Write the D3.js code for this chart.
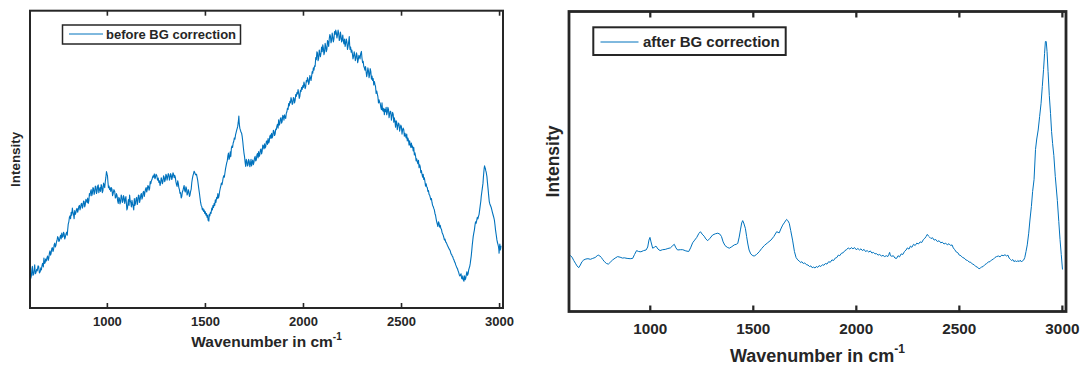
<!DOCTYPE html>
<html>
<head>
<meta charset="utf-8">
<script src="https://cdn.jsdelivr.net/npm/d3@7"></script>
<style>
  html, body { margin: 0; padding: 0; background: #ffffff; }
  svg { display: block; }
  text { font-family: "Liberation Sans", Arial, "DejaVu Sans", sans-serif; fill: #262626; }
</style>
</head>
<body>
<svg id="chart" width="1084" height="369"></svg>
<script>
// ---------- data ----------
const xTicks = [1000, 1500, 2000, 2500, 3000];
const xDomain = [608, 3020];

// Raman spectrum before background correction: [wavenumber (cm^-1), relative intensity]
const beforeBG = [
[608,0.105],[612,0.100],[615,0.108],[618,0.132],[620,0.140],[623,0.110],[626,0.112],[629,0.128],[632,0.145],[635,0.115],[638,0.118],[642,0.130],[645,0.125],[649,0.142],[652,0.140],[656,0.118],[660,0.122],[663,0.135],[666,0.128],
[669,0.142],[672,0.150],[676,0.138],[679,0.168],[682,0.150],[685,0.152],[688,0.165],[691,0.158],[695,0.170],[698,0.175],[701,0.160],[704,0.168],[707,0.185],[710,0.192],[713,0.178],[716,0.185],[719,0.200],[722,0.203],[725,0.190],[728,0.196],
[731,0.212],[734,0.218],[737,0.205],[740,0.210],[743,0.222],[746,0.228],[749,0.240],[752,0.236],[755,0.224],[758,0.226],[761,0.238],[764,0.245],[767,0.232],[770,0.252],[773,0.238],[776,0.240],[779,0.255],[782,0.250],[785,0.232],[788,0.238],
[792,0.250],[795,0.255],[798,0.245],[800,0.262],[803,0.282],[806,0.290],[809,0.305],[812,0.310],[815,0.300],[818,0.322],[821,0.312],[824,0.336],[827,0.322],[830,0.315],[833,0.300],[836,0.328],[839,0.315],[842,0.320],[845,0.332],[848,0.335],
[851,0.322],[854,0.330],[857,0.342],[860,0.345],[863,0.330],[866,0.338],[869,0.350],[872,0.352],[875,0.336],[878,0.342],[881,0.360],[884,0.358],[887,0.340],[890,0.348],[893,0.366],[896,0.362],[899,0.355],[902,0.370],[905,0.352],[908,0.360],
[911,0.385],[914,0.378],[917,0.392],[920,0.398],[923,0.378],[926,0.385],[929,0.405],[932,0.402],[935,0.382],[938,0.390],[941,0.410],[944,0.408],[947,0.385],[950,0.392],[953,0.410],[956,0.414],[959,0.388],[962,0.398],[965,0.405],[968,0.392],
[971,0.415],[974,0.410],[977,0.388],[980,0.395],[983,0.420],[986,0.414],[989,0.405],[992,0.425],[995,0.440],[998,0.459],[1001,0.450],[1003,0.445],[1006,0.420],[1008,0.405],[1011,0.410],[1014,0.398],[1017,0.404],[1020,0.392],[1023,0.405],[1026,0.400],
[1029,0.378],[1032,0.385],[1036,0.398],[1040,0.392],[1043,0.370],[1046,0.372],[1049,0.385],[1052,0.378],[1055,0.360],[1058,0.352],[1061,0.372],[1064,0.368],[1067,0.350],[1070,0.358],[1073,0.380],[1076,0.375],[1079,0.355],[1082,0.360],[1085,0.378],[1088,0.370],
[1091,0.352],[1094,0.366],[1097,0.375],[1100,0.348],[1102,0.330],[1105,0.336],[1108,0.355],[1110,0.365],[1113,0.345],[1116,0.380],[1119,0.360],[1122,0.355],[1125,0.340],[1128,0.362],[1131,0.350],[1134,0.341],[1137,0.330],[1140,0.368],[1143,0.345],[1146,0.352],
[1149,0.368],[1152,0.372],[1155,0.348],[1158,0.358],[1161,0.380],[1164,0.378],[1167,0.355],[1170,0.365],[1173,0.380],[1176,0.385],[1179,0.366],[1182,0.372],[1185,0.390],[1188,0.392],[1191,0.375],[1194,0.388],[1197,0.400],[1200,0.405],[1203,0.390],[1206,0.398],
[1209,0.412],[1212,0.410],[1215,0.396],[1218,0.402],[1221,0.425],[1224,0.418],[1227,0.428],[1230,0.432],[1233,0.440],[1236,0.445],[1239,0.440],[1242,0.451],[1245,0.435],[1248,0.440],[1251,0.450],[1255,0.445],[1258,0.430],[1262,0.437],[1265,0.422],[1268,0.428],
[1271,0.412],[1274,0.420],[1277,0.438],[1280,0.432],[1283,0.418],[1286,0.425],[1289,0.445],[1292,0.440],[1295,0.425],[1298,0.432],[1301,0.450],[1304,0.445],[1307,0.430],[1310,0.440],[1313,0.452],[1316,0.448],[1319,0.430],[1322,0.438],[1325,0.452],[1328,0.447],
[1331,0.432],[1334,0.440],[1337,0.455],[1340,0.450],[1343,0.438],[1346,0.446],[1349,0.440],[1352,0.425],[1355,0.415],[1358,0.409],[1361,0.428],[1364,0.420],[1367,0.405],[1370,0.398],[1373,0.385],[1376,0.388],[1379,0.370],[1382,0.375],[1385,0.390],[1388,0.395],
[1391,0.405],[1394,0.412],[1397,0.395],[1400,0.390],[1403,0.408],[1406,0.402],[1409,0.380],[1412,0.385],[1415,0.398],[1418,0.392],[1421,0.375],[1424,0.380],[1427,0.392],[1430,0.400],[1433,0.422],[1436,0.435],[1439,0.445],[1442,0.452],[1445,0.460],[1448,0.456],
[1451,0.450],[1454,0.448],[1457,0.450],[1460,0.440],[1463,0.430],[1466,0.415],[1469,0.400],[1472,0.386],[1475,0.370],[1478,0.355],[1481,0.345],[1484,0.341],[1487,0.330],[1490,0.335],[1493,0.325],[1496,0.330],[1499,0.318],[1502,0.324],[1505,0.312],[1508,0.318],
[1511,0.305],[1514,0.312],[1516,0.295],[1518,0.300],[1520,0.292],[1522,0.315],[1525,0.310],[1528,0.322],[1531,0.318],[1535,0.336],[1538,0.330],[1541,0.345],[1544,0.338],[1547,0.352],[1550,0.345],[1553,0.364],[1556,0.355],[1560,0.372],[1563,0.368],[1566,0.385],
[1569,0.370],[1572,0.378],[1575,0.392],[1578,0.402],[1581,0.410],[1584,0.420],[1587,0.415],[1590,0.425],[1593,0.438],[1596,0.445],[1599,0.440],[1602,0.454],[1605,0.468],[1608,0.478],[1611,0.488],[1614,0.495],[1617,0.512],[1620,0.521],[1623,0.500],[1626,0.505],
[1629,0.525],[1632,0.510],[1635,0.538],[1638,0.545],[1641,0.540],[1644,0.555],[1647,0.560],[1650,0.572],[1653,0.568],[1656,0.582],[1659,0.590],[1662,0.598],[1665,0.605],[1667,0.610],[1670,0.625],[1673,0.646],[1675,0.620],[1678,0.605],[1681,0.598],[1684,0.592],
[1687,0.588],[1690,0.577],[1693,0.560],[1696,0.540],[1699,0.522],[1702,0.509],[1705,0.490],[1708,0.476],[1711,0.500],[1714,0.495],[1717,0.478],[1720,0.482],[1723,0.500],[1726,0.493],[1729,0.475],[1732,0.485],[1735,0.500],[1738,0.478],[1741,0.490],[1744,0.498],
[1747,0.482],[1750,0.490],[1753,0.505],[1756,0.510],[1759,0.495],[1762,0.498],[1765,0.515],[1768,0.520],[1771,0.505],[1774,0.526],[1777,0.510],[1780,0.515],[1783,0.532],[1786,0.535],[1789,0.518],[1792,0.528],[1795,0.548],[1798,0.545],[1801,0.535],[1804,0.552],
[1807,0.538],[1810,0.542],[1813,0.560],[1816,0.562],[1819,0.550],[1822,0.570],[1825,0.555],[1828,0.560],[1831,0.578],[1834,0.582],[1837,0.570],[1840,0.588],[1843,0.572],[1846,0.578],[1849,0.598],[1852,0.595],[1855,0.580],[1858,0.585],[1861,0.602],[1864,0.600],
[1867,0.612],[1870,0.618],[1873,0.605],[1876,0.633],[1879,0.615],[1882,0.620],[1885,0.638],[1888,0.640],[1891,0.622],[1894,0.628],[1897,0.648],[1900,0.645],[1903,0.632],[1906,0.650],[1909,0.640],[1912,0.638],[1915,0.655],[1918,0.660],[1921,0.672],[1924,0.668],
[1927,0.688],[1930,0.680],[1933,0.695],[1936,0.690],[1939,0.708],[1942,0.700],[1945,0.685],[1948,0.688],[1951,0.708],[1954,0.705],[1957,0.690],[1960,0.698],[1963,0.718],[1966,0.712],[1969,0.725],[1972,0.720],[1975,0.735],[1978,0.723],[1981,0.705],[1984,0.712],
[1987,0.732],[1990,0.728],[1993,0.742],[1996,0.735],[1999,0.748],[2002,0.742],[2005,0.760],[2008,0.751],[2011,0.738],[2014,0.745],[2017,0.765],[2020,0.760],[2023,0.775],[2026,0.768],[2029,0.752],[2032,0.760],[2035,0.782],[2038,0.775],[2041,0.765],[2044,0.779],
[2047,0.795],[2050,0.790],[2053,0.808],[2056,0.800],[2059,0.815],[2062,0.813],[2065,0.842],[2068,0.835],[2071,0.862],[2074,0.858],[2077,0.832],[2080,0.840],[2083,0.868],[2086,0.855],[2089,0.845],[2092,0.858],[2095,0.878],[2098,0.862],[2101,0.885],[2104,0.874],
[2107,0.852],[2110,0.860],[2113,0.890],[2116,0.880],[2119,0.862],[2122,0.870],[2125,0.900],[2128,0.895],[2131,0.880],[2134,0.905],[2137,0.920],[2140,0.914],[2143,0.892],[2146,0.900],[2149,0.925],[2152,0.912],[2155,0.895],[2158,0.905],[2161,0.930],[2164,0.920],
[2167,0.935],[2170,0.927],[2173,0.908],[2176,0.918],[2179,0.935],[2182,0.925],[2185,0.900],[2188,0.905],[2191,0.928],[2194,0.915],[2197,0.895],[2200,0.902],[2203,0.918],[2206,0.897],[2209,0.888],[2212,0.905],[2215,0.880],[2218,0.890],[2221,0.905],[2224,0.895],
[2227,0.870],[2230,0.880],[2233,0.895],[2236,0.913],[2238,0.885],[2240,0.870],[2243,0.878],[2246,0.860],[2249,0.868],[2252,0.855],[2255,0.838],[2258,0.846],[2261,0.862],[2264,0.852],[2267,0.832],[2270,0.840],[2273,0.858],[2276,0.848],[2279,0.825],[2282,0.835],
[2285,0.850],[2288,0.845],[2291,0.838],[2294,0.855],[2298,0.863],[2301,0.840],[2304,0.825],[2307,0.830],[2310,0.813],[2313,0.808],[2316,0.800],[2319,0.812],[2322,0.795],[2325,0.778],[2328,0.790],[2331,0.808],[2334,0.798],[2337,0.775],[2340,0.785],[2343,0.805],
[2346,0.795],[2349,0.770],[2352,0.780],[2355,0.765],[2358,0.772],[2361,0.750],[2364,0.762],[2367,0.752],[2370,0.745],[2373,0.722],[2376,0.730],[2379,0.720],[2382,0.711],[2385,0.690],[2388,0.700],[2391,0.692],[2394,0.688],[2397,0.675],[2400,0.667],[2403,0.690],
[2406,0.665],[2409,0.662],[2412,0.672],[2415,0.650],[2418,0.668],[2421,0.660],[2424,0.675],[2427,0.650],[2430,0.658],[2433,0.675],[2436,0.668],[2439,0.640],[2442,0.652],[2445,0.662],[2448,0.660],[2451,0.632],[2454,0.645],[2457,0.658],[2460,0.652],[2463,0.625],
[2466,0.640],[2469,0.628],[2472,0.608],[2475,0.630],[2478,0.625],[2481,0.600],[2484,0.612],[2487,0.622],[2490,0.618],[2493,0.595],[2496,0.605],[2499,0.615],[2502,0.610],[2505,0.585],[2508,0.598],[2511,0.605],[2514,0.600],[2517,0.578],[2520,0.588],[2523,0.580],
[2526,0.572],[2529,0.585],[2532,0.562],[2535,0.572],[2538,0.565],[2541,0.548],[2544,0.562],[2547,0.550],[2550,0.540],[2553,0.555],[2556,0.540],[2559,0.545],[2562,0.528],[2565,0.540],[2568,0.515],[2571,0.522],[2574,0.512],[2577,0.495],[2580,0.502],[2583,0.492],
[2586,0.485],[2589,0.497],[2592,0.472],[2595,0.482],[2598,0.475],[2601,0.455],[2604,0.462],[2607,0.450],[2610,0.440],[2613,0.450],[2616,0.432],[2619,0.438],[2622,0.425],[2625,0.410],[2628,0.418],[2631,0.408],[2634,0.405],[2637,0.392],[2640,0.395],[2643,0.382],
[2646,0.380],[2649,0.372],[2652,0.364],[2655,0.368],[2658,0.355],[2661,0.345],[2664,0.342],[2667,0.335],[2670,0.330],[2673,0.318],[2676,0.312],[2679,0.300],[2682,0.290],[2685,0.282],[2688,0.274],[2691,0.290],[2694,0.285],[2697,0.272],[2700,0.278],[2703,0.268],
[2706,0.265],[2709,0.255],[2712,0.250],[2715,0.245],[2718,0.238],[2721,0.229],[2724,0.232],[2728,0.222],[2731,0.220],[2734,0.215],[2737,0.210],[2740,0.206],[2743,0.202],[2746,0.198],[2749,0.195],[2752,0.190],[2755,0.182],[2758,0.180],[2761,0.175],[2764,0.172],
[2767,0.165],[2770,0.162],[2773,0.155],[2776,0.152],[2779,0.145],[2782,0.140],[2785,0.135],[2788,0.132],[2791,0.125],[2794,0.120],[2797,0.112],[2800,0.108],[2803,0.112],[2806,0.115],[2809,0.100],[2812,0.098],[2815,0.108],[2818,0.094],[2821,0.090],[2824,0.108],
[2827,0.095],[2830,0.100],[2833,0.112],[2836,0.122],[2839,0.110],[2842,0.115],[2845,0.128],[2848,0.135],[2851,0.142],[2853,0.150],[2856,0.165],[2858,0.175],[2861,0.195],[2863,0.210],[2866,0.228],[2868,0.240],[2871,0.252],[2874,0.262],[2877,0.278],[2880,0.290],
[2883,0.285],[2886,0.295],[2889,0.305],[2892,0.300],[2895,0.308],[2898,0.315],[2901,0.330],[2904,0.345],[2907,0.360],[2909,0.375],[2912,0.390],[2914,0.400],[2916,0.410],[2918,0.420],[2920,0.440],[2922,0.455],[2924,0.470],[2926,0.478],[2928,0.472],[2930,0.470],
[2932,0.462],[2934,0.458],[2936,0.450],[2938,0.442],[2941,0.420],[2944,0.400],[2947,0.378],[2950,0.358],[2953,0.350],[2956,0.345],[2960,0.338],[2963,0.330],[2966,0.322],[2970,0.312],[2973,0.305],[2976,0.296],[2979,0.280],[2982,0.262],[2985,0.248],[2989,0.229],
[2991,0.222],[2994,0.215],[2997,0.206],[2999,0.195],[3000,0.184],[3002,0.205],[3004,0.215],[3006,0.195],[3008,0.200],[3010,0.210]
];

// Raman spectrum after background correction: [wavenumber (cm^-1), relative intensity]
const afterBG = [
[608,0.190],[615,0.186],[623,0.181],[631,0.170],[639,0.161],[647,0.152],[655,0.146],[663,0.155],[671,0.166],[680,0.172],
[690,0.175],[700,0.176],[712,0.174],[723,0.177],[735,0.180],[745,0.186],[750,0.188],[758,0.185],[765,0.180],[771,0.174],
[780,0.166],[790,0.160],[799,0.158],[808,0.164],[820,0.172],[832,0.178],[844,0.183],[856,0.181],[868,0.178],[876,0.179],
[890,0.177],[905,0.176],[917,0.177],[926,0.190],[936,0.203],[946,0.200],[957,0.199],[970,0.203],[982,0.205],[990,0.215],
[996,0.238],[1001,0.247],[1006,0.232],[1014,0.211],[1022,0.214],[1030,0.218],[1040,0.208],[1050,0.203],[1062,0.206],[1075,0.207],
[1088,0.210],[1100,0.212],[1112,0.220],[1119,0.224],[1127,0.212],[1135,0.205],[1148,0.206],[1160,0.206],[1175,0.202],[1189,0.200],
[1198,0.212],[1208,0.229],[1218,0.238],[1228,0.247],[1238,0.260],[1246,0.266],[1254,0.258],[1264,0.251],[1272,0.242],[1281,0.236],
[1292,0.244],[1305,0.255],[1318,0.259],[1330,0.261],[1340,0.258],[1348,0.250],[1356,0.232],[1365,0.220],[1376,0.214],[1386,0.211],
[1398,0.216],[1410,0.222],[1420,0.224],[1427,0.227],[1434,0.248],[1440,0.272],[1446,0.295],[1451,0.303],[1456,0.295],[1464,0.277],
[1470,0.250],[1476,0.225],[1482,0.205],[1490,0.192],[1500,0.186],[1507,0.185],[1518,0.190],[1531,0.199],[1543,0.210],[1556,0.220],
[1570,0.228],[1588,0.238],[1602,0.250],[1616,0.266],[1628,0.262],[1636,0.275],[1645,0.288],[1655,0.298],[1664,0.307],[1670,0.303],
[1677,0.294],[1684,0.270],[1693,0.238],[1702,0.200],[1710,0.180],[1718,0.172],[1726,0.168],[1732,0.163],[1738,0.166],[1745,0.160],
[1752,0.162],[1760,0.156],[1768,0.155],[1775,0.150],[1782,0.152],[1788,0.146],[1795,0.148],[1802,0.145],[1808,0.150],[1815,0.147],
[1822,0.153],[1830,0.150],[1838,0.156],[1845,0.154],[1852,0.160],[1860,0.158],[1868,0.166],[1876,0.164],[1884,0.172],[1892,0.170],
[1900,0.178],[1908,0.180],[1915,0.188],[1922,0.186],[1930,0.194],[1939,0.196],[1947,0.203],[1955,0.206],[1963,0.212],[1971,0.208],
[1978,0.213],[1986,0.209],[1994,0.213],[2002,0.206],[2010,0.210],[2018,0.205],[2025,0.209],[2032,0.203],[2040,0.207],[2047,0.200],
[2055,0.203],[2063,0.198],[2070,0.202],[2078,0.195],[2086,0.197],[2093,0.192],[2100,0.193],[2108,0.188],[2116,0.190],[2124,0.185],
[2132,0.187],[2140,0.183],[2148,0.186],[2155,0.183],[2160,0.190],[2164,0.197],[2168,0.186],[2175,0.184],[2182,0.186],[2190,0.178],
[2198,0.177],[2205,0.186],[2212,0.182],[2220,0.192],[2228,0.190],[2236,0.200],[2244,0.205],[2250,0.212],[2258,0.208],[2265,0.218],
[2272,0.214],[2280,0.224],[2288,0.220],[2296,0.228],[2304,0.225],[2312,0.232],[2320,0.230],[2328,0.240],[2335,0.244],[2341,0.250],
[2347,0.257],[2352,0.252],[2358,0.248],[2365,0.243],[2372,0.246],[2380,0.238],[2388,0.240],[2396,0.233],[2404,0.236],[2412,0.229],
[2420,0.231],[2428,0.225],[2436,0.228],[2444,0.222],[2452,0.226],[2460,0.220],[2467,0.222],[2473,0.212],[2480,0.206],[2488,0.198],
[2495,0.196],[2502,0.188],[2510,0.186],[2518,0.180],[2526,0.178],[2534,0.172],[2542,0.170],[2550,0.165],[2558,0.164],[2566,0.158],
[2574,0.156],[2582,0.150],[2590,0.148],[2598,0.142],[2604,0.145],[2610,0.148],[2618,0.150],[2626,0.156],[2635,0.160],[2643,0.165],
[2651,0.166],[2659,0.172],[2667,0.174],[2675,0.180],[2683,0.183],[2692,0.185],[2700,0.182],[2708,0.188],[2715,0.186],[2724,0.189],
[2732,0.185],[2738,0.188],[2744,0.178],[2750,0.174],[2756,0.170],[2762,0.173],[2768,0.166],[2774,0.170],[2780,0.165],[2786,0.170],
[2792,0.166],[2798,0.171],[2804,0.165],[2810,0.170],[2815,0.172],
[2820,0.180],[2826,0.200],[2832,0.222],[2839,0.261],[2845,0.305],[2852,0.350],[2858,0.400],[2865,0.440],[2872,0.540],[2878,0.575],
[2885,0.605],[2892,0.650],[2899,0.694],[2905,0.750],[2911,0.806],[2916,0.860],[2920,0.900],[2924,0.900],[2928,0.867],[2933,0.800],
[2939,0.720],[2945,0.660],[2950,0.600],[2955,0.560],[2961,0.520],[2968,0.450],[2978,0.370],[2985,0.300],[2991,0.240],[2997,0.190],
[3003,0.140]
];

const panels = [
  { data: beforeBG, legend: "before BG correction",
    box: { l: 30, r: 503, t: 10.7, b: 308 }, boxStroke: 2, tickLen: 5,
    tickFont: 13, tickPad: 9,
    xLabelFont: 15.5, supFont: 10, xLabelY: 347, yLabelFont: 13.4, yLabelX: 20,
    leg: { x: 62.5, y: 25, w: 178, h: 19, stroke: 1.5, l1: 69, l2: 103, ly: 34, tx: 106, ty: 39.3, font: 13 },
    lineWidth: 1.1 },
  { data: afterBG, legend: "after BG correction",
    box: { l: 569, r: 1066, t: 11.5, b: 311.5 }, boxStroke: 2.8, tickLen: 6,
    tickFont: 15.3, tickPad: 11.5,
    xLabelFont: 18, supFont: 12, xLabelY: 361.5, yLabelFont: 17.5, yLabelX: 559,
    leg: { x: 593.3, y: 27.3, w: 192.4, h: 27.7, stroke: 2, l1: 600.5, l2: 638.5, ly: 42, tx: 643, ty: 47.3, font: 15 },
    lineWidth: 1 }
];

const svg = d3.select("#chart");
const lineColor = "#0072BD";
const axisColor = "#262626";

panels.forEach(p => {
  const x = d3.scaleLinear().domain(xDomain).range([p.box.l, p.box.r]);
  const y = d3.scaleLinear().domain([0, 1]).range([p.box.b, p.box.t]);
  const g = svg.append("g");

  // curve
  const clipId = "clip" + Math.round(p.box.l);
  svg.append("clipPath").attr("id", clipId).append("rect")
    .attr("x", p.box.l).attr("y", p.box.t)
    .attr("width", p.box.r - p.box.l).attr("height", p.box.b - p.box.t);
  g.append("path")
    .datum(p.data)
    .attr("clip-path", `url(#${clipId})`)
    .attr("fill", "none")
    .attr("stroke", lineColor)
    .attr("stroke-width", p.lineWidth)
    .attr("stroke-linejoin", "round")
    .attr("d", d3.line().x(d => x(d[0])).y(d => y(d[1])));

  // bottom axis (ticks inward)
  const bottom = g.append("g")
    .attr("transform", `translate(0,${p.box.b})`)
    .call(d3.axisBottom(x).tickValues(xTicks).tickFormat(d3.format("d"))
      .tickSizeInner(-p.tickLen).tickSizeOuter(0).tickPadding(p.tickPad));
  bottom.select(".domain").remove();
  bottom.selectAll(".tick line").attr("stroke", axisColor).attr("stroke-width", p.boxStroke * 0.8);
  bottom.selectAll(".tick text")
    .style("font-family", '"Liberation Sans", Arial, sans-serif')
    .style("font-weight", "bold")
    .style("font-size", p.tickFont + "px")
    .attr("fill", axisColor);

  // top axis ticks (inward, no labels)
  const top = g.append("g")
    .attr("transform", `translate(0,${p.box.t})`)
    .call(d3.axisTop(x).tickValues(xTicks).tickFormat("")
      .tickSizeInner(-p.tickLen).tickSizeOuter(0));
  top.select(".domain").remove();
  top.selectAll(".tick line").attr("stroke", axisColor).attr("stroke-width", p.boxStroke * 0.8);

  // box
  g.append("rect")
    .attr("x", p.box.l).attr("y", p.box.t)
    .attr("width", p.box.r - p.box.l).attr("height", p.box.b - p.box.t)
    .attr("fill", "none").attr("stroke", axisColor).attr("stroke-width", p.boxStroke);

  // x label
  const xl = g.append("text")
    .attr("x", (p.box.l + p.box.r) / 2).attr("y", p.xLabelY)
    .attr("text-anchor", "middle")
    .style("font-weight", "bold").style("font-size", p.xLabelFont + "px");
  xl.append("tspan").text("Wavenumber in cm");
  xl.append("tspan").attr("dy", -p.xLabelFont * 0.45).style("font-size", p.supFont + "px").text("-1");

  // y label
  g.append("text")
    .attr("transform", `translate(${p.yLabelX},${(p.box.t + p.box.b) / 2}) rotate(-90)`)
    .attr("text-anchor", "middle")
    .style("font-weight", "bold").style("font-size", p.yLabelFont + "px")
    .text("Intensity");

  // legend
  const L = p.leg;
  g.append("rect").attr("x", L.x).attr("y", L.y).attr("width", L.w).attr("height", L.h)
    .attr("fill", "#fff").attr("stroke", axisColor).attr("stroke-width", L.stroke);
  g.append("line").attr("x1", L.l1).attr("x2", L.l2).attr("y1", L.ly).attr("y2", L.ly)
    .attr("stroke", lineColor).attr("stroke-width", 1);
  g.append("text").attr("x", L.tx).attr("y", L.ty)
    .style("font-weight", "bold").style("font-size", L.font + "px")
    .text(p.legend);
});
</script>
</body>
</html>
